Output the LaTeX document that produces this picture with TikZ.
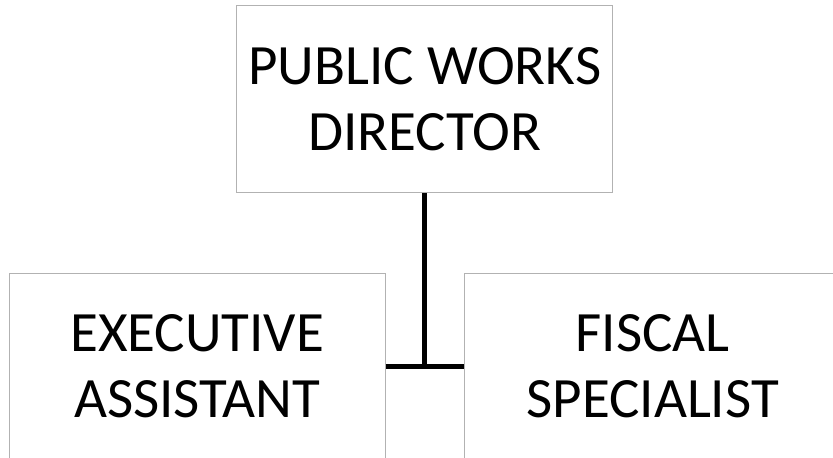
\documentclass[tikz,border=0pt]{standalone}
\usepackage{fontspec}
\setmainfont{Carlito}
\definecolor{boxgray}{RGB}{178,178,178}
\begin{document}
\begin{tikzpicture}[x=1pt,y=1pt,
  role/.style={draw=boxgray,line width=1pt,minimum width=376pt,minimum height=187pt,
    inner sep=0pt,align=center,font=\fontsize{57}{66}\selectfont}]
\useasboundingbox (0,0) rectangle (833,458);
\clip (0,0) rectangle (833,458);
\node[role] (director) at (424.8,358.6) {PUBLIC WORKS\\DIRECTOR};
\node[role] (assistant) at (197.2,91.4) {EXECUTIVE\\ASSISTANT};
\node[role] (fiscal) at (652.7,91.4) {FISCAL\\SPECIALIST};
\draw[line width=5pt] (director.south) -- (director.south |- assistant.east);
\draw[line width=5pt] (assistant.east) -- (fiscal.west);
\end{tikzpicture}
\end{document}
